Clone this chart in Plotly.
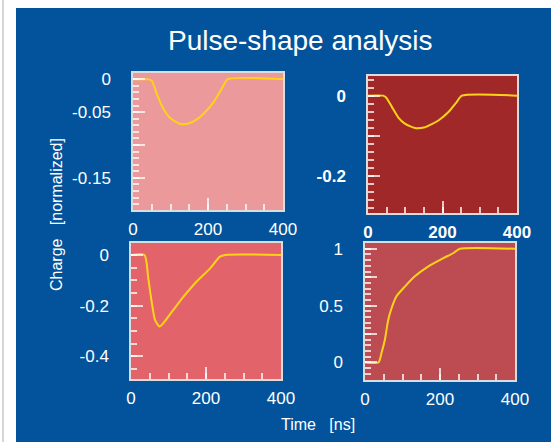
import plotly.graph_objects as go

# pulse shapes (time in ns, charge normalized)
t_a = [0, 40, 50, 64, 81, 99, 126, 150, 170, 189, 216, 238, 252, 400]
q_a = [0, 0, -0.002, -0.023, -0.045, -0.059, -0.068, -0.067, -0.061, -0.052, -0.034, -0.013, 0, 0]

t_b = [0, 40, 48, 64, 81, 99, 126, 153, 170, 189, 216, 238, 252, 400]
q_b = [0, 0, -0.004, -0.028, -0.054, -0.070, -0.081, -0.079, -0.072, -0.062, -0.041, -0.016, 0, 0]

t_c = [0, 36, 46, 55, 64, 76, 86, 113, 140, 175, 211, 237, 251, 400]
q_c = [0, 0, -0.092, -0.184, -0.257, -0.283, -0.270, -0.217, -0.165, -0.105, -0.053, -0.007, 0, 0]

t_d = [0, 36, 44, 53, 62, 71, 84, 107, 133, 169, 204, 236, 253, 400]
q_d = [0, 0, 0.084, 0.20, 0.376, 0.479, 0.582, 0.670, 0.758, 0.846, 0.910, 0.963, 1.0, 1.0]

x_ticks = [0, 200, 400]

BLUE = "#02539b"
LINE = "#ffd21a"
TICK = "rgba(255,255,255,0.75)"
FONT = "Liberation Sans, Arial, sans-serif"

fig = go.Figure()

panels = [
    (t_a, q_a, "x", "y", "#eb999b"),
    (t_b, q_b, "x2", "y2", "#a02828"),
    (t_c, q_c, "x3", "y3", "#e2646a"),
    (t_d, q_d, "x4", "y4", "#bd4b52"),
]

for t, q, xa, ya, bg in panels:
    fig.add_trace(go.Scatter(x=t, y=q, mode="lines", xaxis=xa, yaxis=ya,
                             line=dict(color=LINE, width=2, shape="spline", smoothing=0.6),
                             showlegend=False, hoverinfo="skip"))

# blue panel + per-plot backgrounds
shapes = [dict(type="rect", xref="paper", yref="paper", x0=16/556, x1=551/556, y0=-0.01, y1=1-8/442,
               fillcolor=BLUE, line=dict(width=0), layer="below"),
          dict(type="line", xref="paper", yref="paper", x0=3/556, x1=3/556, y0=0, y1=1,
               line=dict(color="#c8c8c8", width=1.5), layer="below")]
for t, q, xa, ya, bg in panels:
    shapes.append(dict(type="rect", xref=xa + " domain", yref=ya + " domain", x0=0, x1=1, y0=0, y1=1,
                       fillcolor=bg, line=dict(width=0), layer="below"))


def xaxis(dom, anchor, bold=False):
    return dict(domain=dom, anchor=anchor, range=[0, 400], tickvals=x_ticks,
                ticks="inside", ticklen=12, tickwidth=1.5, tickcolor=TICK,
                minor=dict(ticks="inside", ticklen=6, tickwidth=1.5, tickcolor=TICK, dtick=50, tick0=0),
                showgrid=False, zeroline=False, showline=True, mirror=True, automargin=False,
                linecolor="#dcdcdc", linewidth=1.5, ticklabelstandoff=3,
                tickfont=dict(color="white", size=17, family=FONT, weight="bold" if bold else "normal"))


def yaxis(dom, anchor, rng, vals, text, minor, bold=False):
    return dict(domain=dom, anchor=anchor, range=rng, tickvals=vals, ticktext=text,
                ticks="inside", ticklen=12, tickwidth=1.5, tickcolor=TICK,
                minor=dict(ticks="inside", ticklen=6, tickwidth=1.5, tickcolor=TICK, dtick=minor, tick0=0),
                showgrid=False, zeroline=False, showline=True, mirror=True, automargin=False,
                linecolor="#dcdcdc", linewidth=1.5, ticklabelstandoff=17,
                tickfont=dict(color="white", size=17, family=FONT, weight="bold" if bold else "normal"))


fig.update_layout(
    width=556, height=442, margin=dict(l=0, r=0, t=0, b=0, autoexpand=False),
    paper_bgcolor="white", plot_bgcolor="rgba(0,0,0,0)",
    shapes=shapes,
    xaxis=xaxis([133/556, 283/556], "y"),
    yaxis=yaxis([1-210/442, 1-73/442], "x", [-0.199, 0.0096],
                [0, -0.05, -0.1, -0.15], ["0", "-0.05", "", "-0.15"], 0.01),
    xaxis2=xaxis([368/556, 517/556], "y2", bold=True),
    yaxis2=yaxis([1-213/442, 1-76/442], "x2", [-0.293, 0.049],
                 [0, -0.1, -0.2], ["0", "", "-0.2"], 0.02, bold=True),
    xaxis3=xaxis([131/556, 281/556], "y3"),
    yaxis3=yaxis([1-379/442, 1-243/442], "x3", [-0.49, 0.047],
                 [0, -0.2, -0.4], ["0", "-0.2", "-0.4"], 0.05),
    xaxis4=xaxis([365/556, 515/556], "y4"),
    yaxis4=yaxis([1-380/442, 1-243/442], "x4", [-0.154, 1.051],
                 [0, 0.25, 0.5, 0.75, 1], ["0", "", "0.5", "", "1"], 0.05),
    annotations=[
        dict(text="Pulse-shape analysis", x=300/556, y=1-40/442, xref="paper", yref="paper",
             xanchor="center", yanchor="middle",
             showarrow=False, font=dict(color="white", size=28, family=FONT)),
        dict(text="Charge\u00a0\u00a0\u00a0[normalized]", x=56/556, y=1-215/442, xref="paper", yref="paper",
             xanchor="center", yanchor="middle",
             textangle=-90, showarrow=False, font=dict(color="white", size=16, family=FONT)),
        dict(text="Time\u00a0\u00a0\u00a0[ns]", x=318/556, y=1-424/442, xref="paper", yref="paper",
             xanchor="center", yanchor="middle",
             showarrow=False, font=dict(color="white", size=16, family=FONT)),
    ],
)

# drop the default page margin/scrollbar so the figure fills the window exactly
fig.write_html("out.html",
               config={"responsive": False, "displayModeBar": False},
               post_script="document.body.style.margin='0px';"
                           "document.body.style.overflow='hidden';"
                           "document.documentElement.style.overflow='hidden';")
